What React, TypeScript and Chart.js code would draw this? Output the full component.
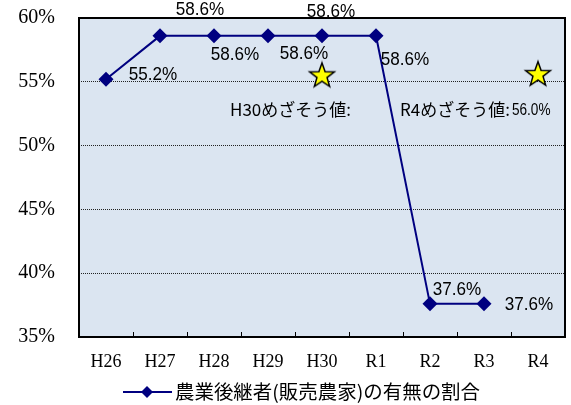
import React, { useEffect, useRef } from "react";
import { Chart, registerables } from "chart.js";

Chart.register(...registerables);

const categories = ["H26", "H27", "H28", "H29", "H30", "R1", "R2", "R3", "R4"];
const successorRate: (number | null)[] = [55.2, 58.6, 58.6, 58.6, 58.6, 58.6, 37.6, 37.6, null];
const targetValues: (number | null)[] = [null, null, null, null, 55.5, null, null, null, 55.6];
const seriesName = "農業後継者(販売農家)の有無の割合";
const yTicks = [35, 40, 45, 50, 55, 60];
const targetLabels = ["H30めざそう値:", "R4めざそう値:"];
const r4TargetText = "56.0%";

// label placement offsets (dx, dy) relative to each point
const labelOffsets: [number, number][] = [
  [47, -4], [40, -26], [21, 19], [36, 18], [9, -24], [29, 24], [27, -14], [45, 1], [0, 0],
];

const NAVY = "#000080";
const SANS = "'Liberation Sans', Arial, sans-serif";
const SERIF = "'Liberation Serif', 'Times New Roman', serif";
const CJK = "'Noto Sans CJK JP', 'Liberation Sans', sans-serif";

function makeStar(): HTMLCanvasElement {
  const c = document.createElement("canvas");
  c.width = 30;
  c.height = 30;
  const ctx = c.getContext("2d")!;
  const cx = 15, cy = 15.5, R = 13, r = 5.3;
  ctx.beginPath();
  for (let i = 0; i < 10; i++) {
    const rad = i % 2 === 0 ? R : r;
    const a = -Math.PI / 2 + (i * Math.PI) / 5;
    const x = cx + rad * Math.cos(a);
    const y = cy + rad * Math.sin(a);
    if (i === 0) ctx.moveTo(x, y);
    else ctx.lineTo(x, y);
  }
  ctx.closePath();
  ctx.fillStyle = "#ffff00";
  ctx.fill();
  ctx.lineWidth = 1.5;
  ctx.strokeStyle = "#000";
  ctx.stroke();
  return c;
}

function drawCondensed(ctx: CanvasRenderingContext2D, text: string, x: number, y: number, sx: number) {
  ctx.save();
  ctx.translate(x, y);
  ctx.scale(sx, 1);
  ctx.fillText(text, 0, 0);
  ctx.restore();
}

export default function App() {
  const ref = useRef<HTMLCanvasElement>(null);
  useEffect(() => {
    const star = makeStar();
    const bgPlugin = {
      id: "bgPlugin",
      beforeDraw(chart: any) {
        const { ctx, chartArea: a } = chart;
        ctx.save();
        ctx.fillStyle = "#fff";
        ctx.fillRect(0, 0, chart.width, chart.height);
        ctx.fillStyle = "#dbe5f1";
        ctx.fillRect(a.left, a.top, a.right - a.left, a.bottom - a.top);
        ctx.restore();
      },
      afterDatasetsDraw(chart: any) {
        const { ctx } = chart;
        const meta = chart.getDatasetMeta(0);
        ctx.save();
        ctx.fillStyle = "#000";
        ctx.font = `18px ${SANS}`;
        ctx.textAlign = "center";
        ctx.textBaseline = "middle";
        meta.data.forEach((pt: any, i: number) => {
          const v = successorRate[i];
          if (v == null) return;
          const [dx, dy] = labelOffsets[i];
          drawCondensed(ctx, v.toFixed(1) + "%", pt.x + dx, pt.y + dy, 0.95);
        });
        // target labels
        const xs = chart.scales.x;
        const ys = chart.scales.y;
        const ty = ys.getPixelForValue(52.8);
        ctx.textAlign = "left";
        ctx.font = `17px ${CJK}`;
        const x1 = xs.getPixelForValue(4) - 92;
        ctx.fillText(targetLabels[0], x1, ty);
        const x2 = xs.getPixelForValue(8) - 138;
        ctx.fillText(targetLabels[1], x2, ty);
        const w = ctx.measureText(targetLabels[1]).width;
        ctx.font = `16px ${SANS}`;
        drawCondensed(ctx, r4TargetText, x2 + w + 2, ty + 1, 0.85);
        ctx.restore();
      },
      afterDraw(chart: any) {
        const { ctx, chartArea: a } = chart;
        const xs = chart.scales.x;
        ctx.save();
        // inward ticks at category boundaries
        ctx.strokeStyle = "#000";
        ctx.lineWidth = 1;
        for (let i = 1; i < categories.length; i++) {
          const x = Math.round((xs.getPixelForValue(i - 1) + xs.getPixelForValue(i)) / 2) + 0.5;
          ctx.beginPath();
          ctx.moveTo(x, a.bottom);
          ctx.lineTo(x, a.bottom - 5);
          ctx.stroke();
        }
        ctx.lineWidth = 2;
        ctx.strokeRect(a.left, a.top, a.right - a.left, a.bottom - a.top);
        // legend
        const ly = 392;
        ctx.strokeStyle = NAVY;
        ctx.lineWidth = 2;
        ctx.beginPath();
        ctx.moveTo(123, ly);
        ctx.lineTo(172, ly);
        ctx.stroke();
        ctx.fillStyle = NAVY;
        ctx.beginPath();
        ctx.moveTo(147, ly - 6);
        ctx.lineTo(153, ly);
        ctx.lineTo(147, ly + 6);
        ctx.lineTo(141, ly);
        ctx.closePath();
        ctx.fill();
        ctx.fillStyle = "#000";
        ctx.font = `19px ${CJK}`;
        ctx.textAlign = "left";
        ctx.textBaseline = "middle";
        const tw = ctx.measureText(seriesName).width;
        drawCondensed(ctx, seriesName, 175, ly, 305 / tw);
        ctx.restore();
      },
    };
    const chart = new Chart(ref.current!, {
      type: "line",
      data: {
        labels: categories,
        datasets: [
          {
            label: seriesName,
            data: successorRate,
            borderColor: NAVY,
            backgroundColor: NAVY,
            borderWidth: 2,
            pointStyle: "rectRot",
            pointRadius: 7.5,
            pointBorderWidth: 0,
            fill: false,
            tension: 0,
            clip: false as any,
          },
          {
            label: "target",
            data: targetValues,
            showLine: false,
            pointStyle: star as any,
            pointRadius: 14,
            clip: false as any,
          },
        ],
      },
      options: {
        animation: false,
        responsive: false,
        events: [],
        layout: { autoPadding: false, padding: { top: 18, right: 6, bottom: 28, left: 0 } },
        plugins: { legend: { display: false }, tooltip: { enabled: false } },
        scales: {
          x: {
            offset: true,
            grid: { display: false, drawTicks: false },
            border: { display: false },
            ticks: { color: "#000", font: { family: SERIF, size: 18 }, padding: 14 },
            afterFit(s: any) { s.height = 40; },
          },
          y: {
            min: 35,
            max: 60,
            afterBuildTicks(s: any) { s.ticks = yTicks.map((v) => ({ value: v })); },
            grid: {
              drawTicks: true,
              tickLength: 24,
              tickColor: "rgba(0,0,0,0)",
              color: (c: any) => (c.tick && (c.tick.value === 35 || c.tick.value === 60) ? "rgba(0,0,0,0)" : "#222"),
              lineWidth: 1,
            },
            border: { display: false, dash: [1, 1] },
            ticks: {
              color: "#000",
              font: { family: SERIF, size: 20 },
              padding: 0,
              callback: (v: any) => v + "%",
            },
            afterFit(s: any) { s.width = 79; },
          },
        },
      },
      plugins: [bgPlugin],
    });
    return () => chart.destroy();
  }, []);
  return (
    <div style={{ position: "fixed", left: 0, top: 0, width: 571, height: 405 }}>
      <canvas ref={ref} width={571} height={405} />
    </div>
  );
}
